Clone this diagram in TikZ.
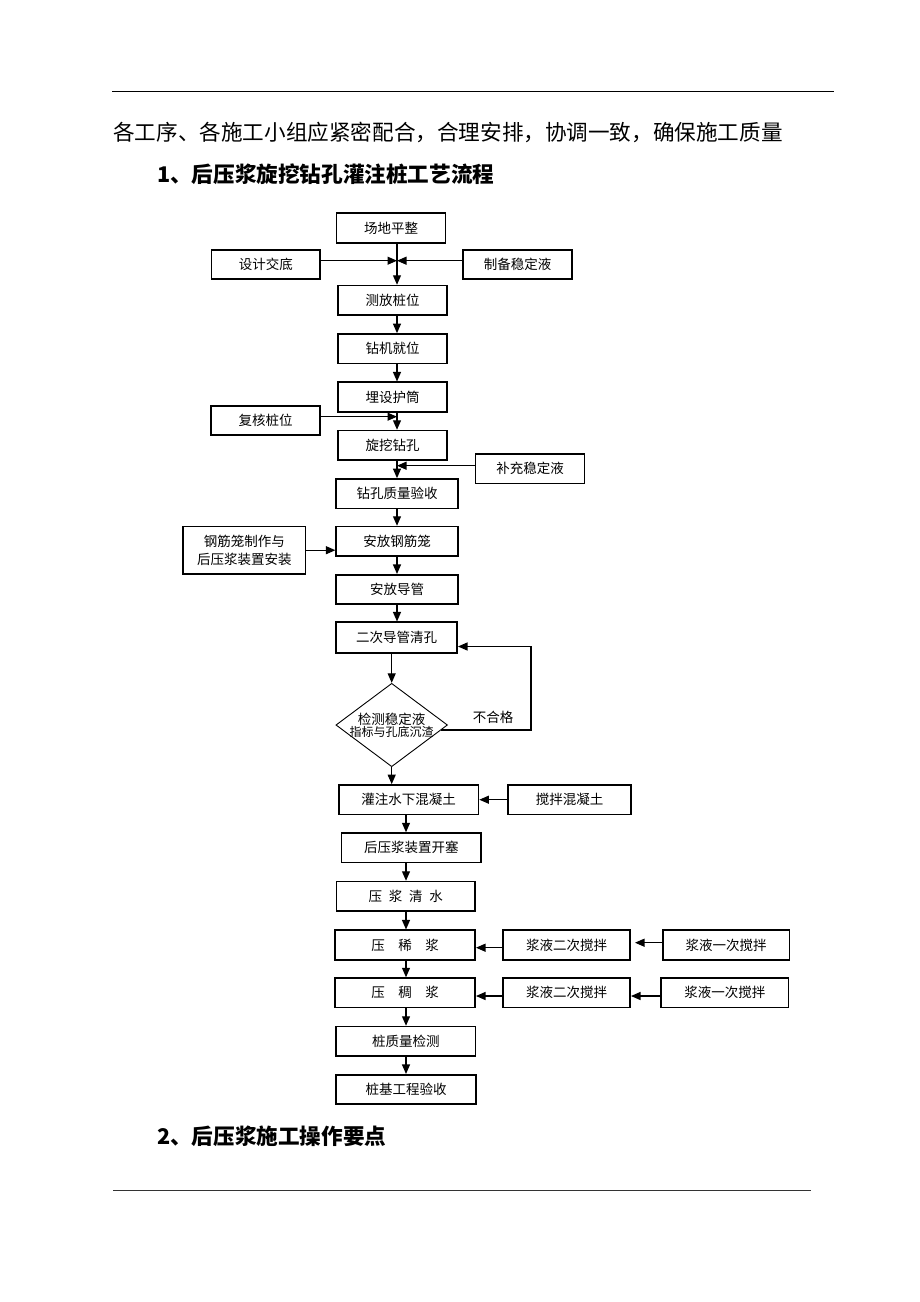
\documentclass[tikz,border=0pt]{standalone}
\usepackage{fontspec}
\setmainfont{Noto Sans CJK SC}
\usetikzlibrary{arrows.meta,shapes.geometric}
\tikzset{
  box/.style={draw, line width=1.6pt, minimum height=29.5pt, inner sep=0pt,
    font=\fontsize{13.5}{18.4}\selectfont, align=center},
  arr/.style={draw, line width=1.1pt, -{Triangle[length=9.5pt,width=8pt]}},
  dia/.style={draw, diamond, line width=0.9pt, minimum width=111.6pt, minimum height=83.4pt, inner sep=0pt},
}
\begin{document}
\begin{tikzpicture}[x=1pt,y=-1pt]
\useasboundingbox (0,0) rectangle (920,1302);
\path[draw,line width=1pt] (112,91) -- (834,91);
\path[draw,line width=1pt,black!80] (113,1190) -- (811,1190);
\node[anchor=west, inner sep=0pt, font=\fontsize{21.6}{26}\selectfont] (t1) at (113,132) {各工序、各施工小组应紧密配合，合理安排，协调一致，确保施工质量};
\node[anchor=west, inner sep=0pt, font=\fontsize{21.6}{26}\selectfont\bfseries] (h1) at (157,174) {1、后压浆旋挖钻孔灌注桩工艺流程};
\node[anchor=west, inner sep=0pt, font=\fontsize{21.6}{26}\selectfont\bfseries] (h2) at (157,1136.5) {2、后压浆施工操作要点};
% main chain
\node[box, minimum width=109pt] (1) at (391,228) {场地平整};
\node[box, minimum width=109pt] (2) at (392.5,300.3) {测放桩位};
\node[box, minimum width=109pt] (3) at (392.5,348.7) {钻机就位};
\node[box, minimum width=109pt] (4) at (392.5,397) {埋设护筒};
\node[box, minimum width=109pt] (5) at (392.7,445.3) {旋挖钻孔};
\node[box, minimum width=122pt] (6) at (397.2,493.7) {钻孔质量验收};
\node[box, minimum width=122pt] (7) at (397.2,541.3) {安放钢筋笼};
\node[box, minimum width=122pt] (8) at (397.2,589.5) {安放导管};
\node[box, minimum width=121pt, minimum height=30.5pt] (9) at (396.7,637.5) {二次导管清孔};
\node[dia] (10) at (391.7,725) {};
\node[align=center, inner sep=0pt] (10t) at (391.7,725) {\fontsize{13.5}{16}\selectfont 检测稳定液\\\fontsize{12}{16}\selectfont 指标与孔底沉渣};
\node[box, minimum width=139.7pt] (11) at (408.7,799.7) {灌注水下混凝土};
\node[box, minimum width=139.7pt] (12) at (411.3,847.8) {后压浆装置开塞};
\node[box, minimum width=138.7pt] (13) at (405.8,896.3) {压\enspace 浆\enspace 清\enspace 水};
\node[box, minimum width=140.4pt] (14) at (405,945) {压　稀　浆};
\node[box, minimum width=140.4pt] (15) at (405,992.8) {压　稠　浆};
\node[box, minimum width=139.3pt] (16) at (405.8,1041.3) {桩质量检测};
\node[box, minimum width=140pt] (17) at (406.2,1089.5) {桩基工程验收};
% side boxes
\node[box, minimum width=108.7pt] (a) at (265.8,264.5) {设计交底};
\node[box, minimum width=109pt] (b) at (517.7,264.5) {制备稳定液};
\node[box, minimum width=109pt] (c) at (265.7,420.5) {复核桩位};
\node[box, minimum width=109pt] (d) at (530,468.8) {补充稳定液};
\node[box, minimum width=122.3pt, minimum height=47.3pt] (e) at (244.3,550.2) {钢筋笼制作与\\后压浆装置安装};
\node[box, minimum width=123pt] (f) at (569.7,799.7) {搅拌混凝土};
\node[box, minimum width=127pt] (g) at (566.7,945) {浆液二次搅拌};
\node[box, minimum width=126.7pt] (h) at (726.2,945) {浆液一次搅拌};
\node[box, minimum width=127pt] (i) at (566.7,992.8) {浆液二次搅拌};
\node[box, minimum width=127.3pt] (j) at (724.9,992.8) {浆液一次搅拌};
\node[inner sep=0pt, font=\fontsize{13.5}{16}\selectfont] (ng) at (493,717) {不合格};
% helper coordinates
\coordinate (m) at (397,0);
\coordinate (n) at (406,0);
\coordinate (j1) at (397,260.7);
\coordinate (j2) at (397,416.7);
\coordinate (j3) at (397,465.7);
% connectors
\path[arr] (1.south -| m) -- (2.north -| m);
\path[arr] (a.east |- j1) -- (j1);
\path[arr] (b.west |- j1) -- (j1);
\path[arr] (2.south -| m) -- (3.north -| m);
\path[arr] (3.south -| m) -- (4.north -| m);
\path[arr] (4.south -| m) -- (5.north -| m);
\path[arr] (c.east |- j2) -- (j2);
\path[arr] (5.south -| m) -- (6.north -| m);
\path[arr] (d.west |- j3) -- (j3);
\path[arr] (6.south -| m) -- (7.north -| m);
\path[arr] (e.east) -- (e.east -| 7.west);
\path[arr] (7.south -| m) -- (8.north -| m);
\path[arr] (8.south -| m) -- (9.north -| m);
\path[arr] (9.south -| 10.north) -- (10.north);
\path[arr] ([xshift=-7pt,yshift=-5pt]10.east) -- ++(90,0) |- ([yshift=-9pt]9.east);
\path[arr] (10.south) -- (10.south |- 11.north);
\path[arr] (f.west) -- (f.west -| 11.east);
\path[arr] (11.south -| n) -- (12.north -| n);
\path[arr] (12.south -| n) -- (13.north -| n);
\path[arr] (13.south -| n) -- (14.north -| n);
\path[arr] (14.south -| n) -- (15.north -| n);
\path[arr] (15.south -| n) -- (16.north -| n);
\path[arr] (16.south -| n) -- (17.north -| n);
\path[arr] ([yshift=-2.7pt]g.west) -- ([yshift=-2.7pt]g.west -| 14.east);
\path[arr] ([yshift=2.3pt]h.west) -- ([xshift=4pt,yshift=2.3pt]g.east);
\path[arr] ([yshift=-3.2pt]i.west) -- ([yshift=-3.2pt]i.west -| 15.east);
\path[arr] ([yshift=-3.2pt]j.west) -- ([yshift=-3.2pt]j.west -| i.east);
\end{tikzpicture}
\end{document}
